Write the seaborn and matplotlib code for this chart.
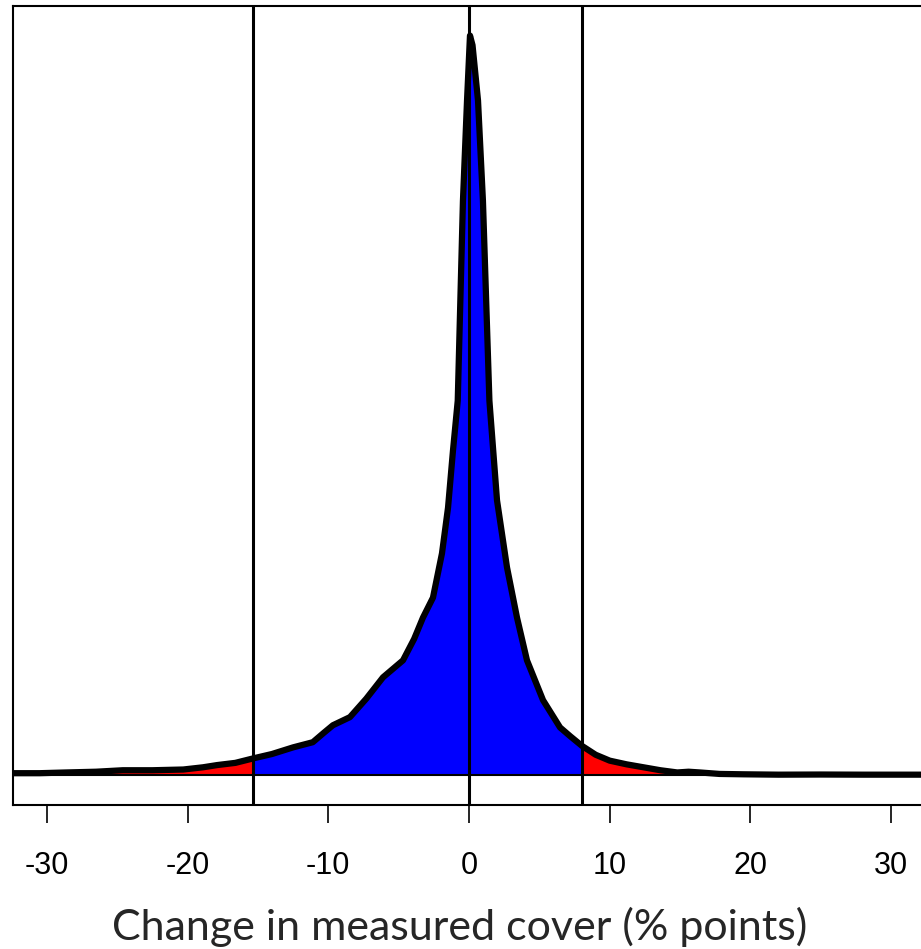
import matplotlib
matplotlib.use("Agg")
import matplotlib.pyplot as plt
import seaborn as sns
import pandas as pd

# density curve (relative density, peak ~ 1)
change = [-32.4, -30.5, -28.6, -26.5, -24.6, -22.5, -20.3, -18.9, -17.9, -16.6,
          -15.35, -14.0, -12.5, -11.1, -10.3, -9.67, -8.46, -7.3, -6.11, -4.69,
          -3.9, -3.27, -2.56, -1.92, -1.49, -1.14, -0.80, -0.43, -0.14, 0.07,
          0.25, 0.64, 0.99, 1.45, 1.99, 2.7, 3.41, 4.12, 5.26, 6.47,
          7.2, 8.03, 9.0, 10.0, 11.2, 12.4, 13.6, 14.8, 15.6, 16.4,
          17.8, 19.5, 22.0, 25.0, 28.0, 32.4]
density = [0.003, 0.003, 0.004, 0.005, 0.007, 0.007, 0.008, 0.011, 0.014, 0.017,
           0.023, 0.029, 0.038, 0.045, 0.058, 0.068, 0.079, 0.104, 0.133, 0.156,
           0.185, 0.214, 0.241, 0.301, 0.363, 0.440, 0.508, 0.779, 0.915, 1.003,
           0.990, 0.915, 0.779, 0.508, 0.373, 0.282, 0.214, 0.156, 0.102, 0.065,
           0.053, 0.040, 0.028, 0.020, 0.015, 0.011, 0.007, 0.004, 0.005, 0.004,
           0.002, 0.0015, 0.001, 0.0012, 0.001, 0.001]

lower_cut = -15.35
upper_cut = 8.03
tick_values = [-30, -20, -10, 0, 10, 20, 30]
x_label = "Change in measured cover (% points)"

sns.set_style("white")
plt.rcParams['font.family'] = ['Liberation Sans', 'DejaVu Sans']

df = pd.DataFrame({'change': change, 'density': density})

fig = plt.figure(figsize=(9.21, 9.49), dpi=100)
ax = fig.add_axes([13 / 921, 1 - 805 / 949, (925 - 13) / 921, (805 - 6) / 949])

# fills: blue between the cut lines, red in the tails
inner = (df['change'] >= lower_cut) & (df['change'] <= upper_cut)
outer = (df['change'] <= lower_cut) | (df['change'] >= upper_cut)
ax.fill_between(df['change'], 0, df['density'], where=outer, color='#ff0000', lw=0)
ax.fill_between(df['change'], 0, df['density'], where=inner, color='#0000ff', lw=0)

ax.axhline(0, color='black', lw=1.5)
for cut in [lower_cut, 0, upper_cut]:
    ax.axvline(cut, color='black', lw=2.2)

sns.lineplot(data=df, x='change', y='density', color='black', lw=4.5,
             sort=False, ax=ax, solid_joinstyle='round', solid_capstyle='round')

# R style axis range (4% padding)
ax.set_xlim(-32.4, 32.4)
pad = 0.04 * (max(density) - 0)
ax.set_ylim(-pad, max(density) + pad)

ax.set_xticks(tick_values)
ax.set_xticklabels([str(t) for t in tick_values])
ax.set_yticks([])
ax.tick_params(axis='x', bottom=True, length=13, width=1.2, pad=20,
               labelsize=22, colors='black', direction='out')
for sp in ax.spines.values():
    sp.set_color('black')
    sp.set_linewidth(1.5)

ax.set_ylabel('')
ax.set_xlabel(x_label, fontsize=31, family=['Lato', 'DejaVu Sans'])
ax.xaxis.set_label_coords((460 - 13) / 912, (805 - 940) / 799)
ax.xaxis.label.set_va('baseline')

plt.savefig("out.png", dpi=100)
